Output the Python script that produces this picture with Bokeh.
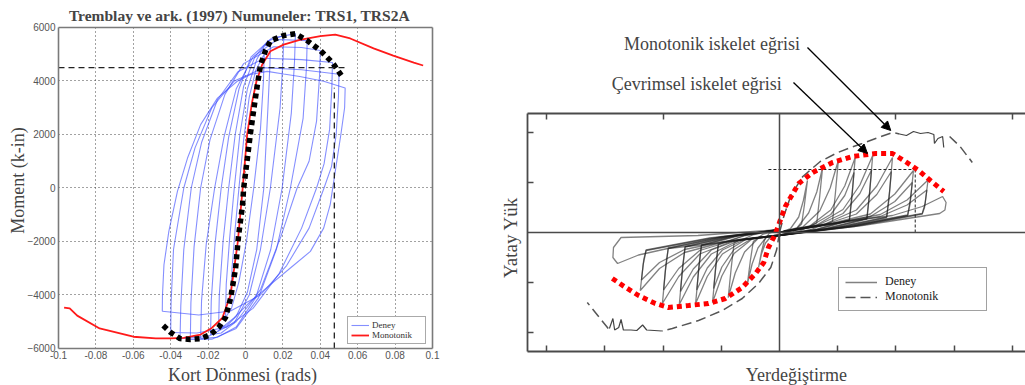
from math import pi
from bokeh.plotting import figure
from bokeh.models import (Range1d, FixedTicker, LinearAxis, Label, Arrow, NormalHead,
                          Legend, LegendItem, CustomJSTickFormatter)
from bokeh.layouts import row
from bokeh.embed import file_html
from bokeh.resources import INLINE

SERIF = "Liberation Serif"
SANS = "Liberation Sans"

# ================= LEFT PANEL DATA (rotation rad, moment k-in) =================
left_title = "Tremblay ve ark. (1997) Numuneler: TRS1, TRS2A"
left_xlabel = "Kort Dönmesi (rads)"
left_ylabel = "Moment (k-in)"
x_ticks = [-0.1, -0.08, -0.06, -0.04, -0.02, 0.0, 0.02, 0.04, 0.06, 0.08, 0.1]
x_tick_labels = ["-0.1", "-0.08", "-0.06", "-0.04", "-0.02", "0", "0.02", "0.04", "0.06", "0.08", "0.1"]
y_ticks = [-6000, -4000, -2000, 0, 2000, 4000, 6000]

# experimental cycles (Deney)
c1_x = [-0.0080, -0.0072, -0.0055, -0.0035, -0.0010, 0.0020, 0.0055, 0.0100, 0.0096, 0.0080, 0.0044, 0.0005, -0.0035, -0.0075, -0.0107]
c1_y = [-4300, -3000, -1500, 0, 1800, 3400, 4400, 5000, 4000, 2200, 0, -2000, -3500, -4500, -4840]
c2_x = [-0.0107, -0.0103, -0.0085, -0.0060, -0.0030, 0.0010, 0.0060, 0.0100, 0.0134, 0.0130, 0.0120, 0.0098, 0.0060, 0.0010, -0.0050, -0.0100, -0.0144]
c2_y = [-4840, -3600, -1900, 0, 2000, 3700, 4800, 5300, 5450, 4500, 3000, 0, -2300, -3900, -4800, -5150, -5220]
c3_x = [-0.0144, -0.0140, -0.0120, -0.0090, -0.0055, -0.0010, 0.0050, 0.0120, 0.0205, 0.0200, 0.0185, 0.0133, 0.0080, 0.0020, -0.0060, -0.0130, -0.0187]
c3_y = [-5220, -4000, -2000, 0, 2000, 3800, 4900, 5500, 5700, 4700, 3000, 0, -2300, -4000, -5050, -5420, -5480]
c4_x = [-0.0187, -0.0183, -0.0163, -0.0130, -0.0090, -0.0035, 0.0030, 0.0140, 0.0267, 0.0262, 0.0245, 0.0196, 0.0135, 0.0055, -0.0050, -0.0150, -0.0240]
c4_y = [-5480, -4200, -2100, 0, 1900, 3700, 4900, 5600, 5770, 4700, 2800, 0, -2300, -4100, -5200, -5580, -5630]
c5_x = [-0.0240, -0.0235, -0.0210, -0.0165, -0.0115, -0.0050, 0.0040, 0.0170, 0.0330, 0.0326, 0.0308, 0.0240, 0.0165, 0.0070, -0.0050, -0.0180, -0.0295]
c5_y = [-5630, -4200, -2100, 0, 1900, 3700, 4900, 5550, 5510, 4500, 2600, 0, -2300, -4100, -5250, -5650, -5660]
c6_x = [-0.0295, -0.0292, -0.0275, -0.0240, -0.0190, -0.0110, -0.0010, 0.0150, 0.0300, 0.0400, 0.0396, 0.0380, 0.0340, 0.0276, 0.0190, 0.0080, -0.0050, -0.0200, -0.0350]
c6_y = [-5660, -4300, -2200, 0, 1800, 3500, 4650, 5280, 5250, 5140, 4200, 2500, 1000, 0, -1800, -3800, -5000, -5550, -5630]
c7_x = [-0.0350, -0.0346, -0.0330, -0.0290, -0.0235, -0.0150, -0.0040, 0.0100, 0.0300, 0.0465, 0.0462, 0.0450, 0.0420, 0.0380, 0.0300, 0.0180, 0.0040, -0.0100, -0.0260, -0.0400]
c7_y = [-5630, -4400, -2300, 0, 1700, 3300, 4350, 4850, 4800, 4690, 3800, 2200, 900, 0, -1500, -3200, -4500, -5200, -5420, -5400]
c8_x = [-0.0400, -0.0398, -0.0385, -0.0330, -0.0270, -0.0180, -0.0060, 0.0100, 0.0300, 0.0500, 0.0497, 0.0485, 0.0460, 0.0420, 0.0340, 0.0220, 0.0080, -0.0080, -0.0250, -0.0445]
c8_y = [-5400, -4300, -2300, 0, 1500, 3000, 4000, 4500, 4420, 4250, 3400, 2000, 800, 0, -1500, -2900, -4000, -4600, -4750, -4610]
c9_x = [-0.0445, -0.0444, -0.0436, -0.0410, -0.0364, -0.0310, -0.0240, -0.0150, -0.0044, 0.0027, 0.0116, 0.0204, 0.0290, 0.0418, 0.0533,
        0.0530, 0.0510, 0.0480, 0.0453, 0.0418, 0.0347, 0.0240, 0.0133, 0.0027, -0.0062, -0.0150]
c9_y = [-4610, -4000, -2870, -1620, -125, 1120, 2370, 3360, 3990, 4240, 4360, 4260, 4170, 3990, 3740,
        3000, 2000, 620, -620, -1500, -2370, -2990, -3610, -4240, -4860, -5360]

# monotonic (Monotonik)
mono_x = [-0.097, -0.094, -0.090, -0.078, -0.060, -0.048, -0.040, -0.033, -0.024, -0.018, -0.0124, -0.008, -0.0041, -0.0015,
          0.0009, 0.0035, 0.0059, 0.0089, 0.0133, 0.0204, 0.029, 0.040, 0.048, 0.056, 0.0685, 0.079, 0.090, 0.095]
mono_y = [-4470, -4500, -4770, -5250, -5560, -5620, -5620, -5600, -5480, -5230, -4860, -4000, -2000, 0,
          2000, 3200, 4000, 4610, 5110, 5360, 5540, 5680, 5730, 5590, 5220, 4950, 4690, 4580]

# cyclic skeleton (black dots)
skel_x = [-0.044, -0.040, -0.035, -0.0295, -0.024, -0.0187, -0.0144, -0.0107, -0.008, -0.0053, -0.0037, -0.0016, -0.001,
          0.001, 0.0027, 0.0045, 0.0063, 0.008, 0.0107, 0.0134, 0.0205, 0.0267, 0.033, 0.040, 0.0465, 0.052]
skel_y = [-5140, -5400, -5630, -5660, -5630, -5480, -5220, -4840, -4130, -3000, -1780, -650, -20,
          1100, 2070, 2970, 3830, 4580, 5140, 5510, 5700, 5770, 5510, 5140, 4690, 4130]

# reference dashed lines
yield_moment = 4500
yield_end_rot = 0.0545
ref_rot = 0.0475
ref_rot_top = 3750

# ================= RIGHT PANEL DATA (displacement, lateral load; arbitrary units) =================
r_xlabel = "Yerdeğiştirme"
r_ylabel = "Yatay Yük"
r_note_mono = "Monotonik iskelet eğrisi"
r_note_cyc = "Çevrimsel iskelet eğrisi"
r_bottom_ticks = [-4, -3, -2, -1, 1, 2, 3, 4]
r_top_ticks = [-4, -2, 2, 4]
r_left_ticks = [-2, -1, 1, 2]

a1_x = [0.00, 0.19, 0.33, 0.41, 0.48, 0.43, 0.38, 0.24, 0.00, -0.14, -0.24, -0.31, -0.36, -0.31, -0.26, -0.18, 0.00]
a1_y = [0.00, 0.08, 0.31, 0.64, 1.04, 0.57, 0.17, 0.02, -0.06, -0.07, -0.21, -0.43, -0.70, -0.39, -0.16, -0.02, 0.06]
a2_x = [0.00, 0.30, 0.50, 0.64, 0.74, 0.69, 0.64, 0.37, 0.00, -0.22, -0.37, -0.47, -0.55, -0.50, -0.45, -0.28, 0.00]
a2_y = [0.00, 0.09, 0.39, 0.81, 1.30, 0.72, 0.19, 0.04, -0.06, -0.08, -0.31, -0.63, -1.02, -0.56, -0.18, -0.03, 0.06]
a3_x = [0.00, 0.40, 0.69, 0.87, 1.01, 0.96, 0.91, 0.51, 0.00, -0.35, -0.60, -0.76, -0.88, -0.83, -0.78, -0.44, 0.00]
a3_y = [0.00, 0.11, 0.43, 0.89, 1.44, 0.79, 0.22, 0.05, -0.06, -0.10, -0.39, -0.81, -1.30, -0.72, -0.21, -0.04, 0.06]
a4_x = [0.00, 0.52, 0.88, 1.12, 1.30, 1.25, 1.20, 0.65, 0.00, -0.46, -0.78, -0.99, -1.15, -1.10, -1.05, -0.58, 0.00]
a4_y = [0.00, 0.13, 0.45, 0.93, 1.50, 0.83, 0.25, 0.07, -0.06, -0.12, -0.42, -0.87, -1.40, -0.77, -0.24, -0.06, 0.06]
a5_x = [0.00, 0.64, 1.09, 1.38, 1.60, 1.55, 1.50, 0.80, 0.00, -0.58, -0.98, -1.24, -1.44, -1.39, -1.34, -0.72, 0.00]
a5_y = [0.00, 0.15, 0.46, 0.95, 1.54, 0.85, 0.28, 0.08, -0.06, -0.14, -0.43, -0.88, -1.42, -0.78, -0.26, -0.07, 0.06]
a6_x = [0.00, 0.78, 1.32, 1.67, 1.94, 1.89, 1.84, 0.97, 0.00, -0.69, -1.17, -1.48, -1.72, -1.67, -1.62, -0.86, 0.00]
a6_y = [0.00, 0.17, 0.45, 0.93, 1.50, 0.83, 0.31, 0.10, -0.06, -0.15, -0.43, -0.89, -1.44, -0.79, -0.29, -0.09, 0.06]
a7_x = [0.00, 0.92, 1.56, 1.98, 2.30, 2.25, 2.20, 1.15, 0.00, -0.80, -1.37, -1.73, -2.01, -1.96, -1.91, -1.00, 0.00]
a7_y = [0.00, 0.19, 0.37, 0.77, 1.24, 0.68, 0.35, 0.12, -0.06, -0.17, -0.43, -0.88, -1.42, -0.78, -0.32, -0.10, 0.06]
a8_x = [0.00, 1.02, 1.73, 2.19, 2.55, 2.50, 2.45, 1.28, 0.00, -0.96, -1.63, -2.06, -2.39, -2.34, -2.29, -1.20, 0.00]
a8_y = [0.00, 0.20, 0.36, 0.65, 1.05, 0.58, 0.38, 0.13, -0.06, -0.19, -0.40, -0.72, -1.16, -0.64, -0.36, -0.12, 0.06]
a9_x = [0.00, 1.14, 1.94, 2.45, 2.80, 2.86, 2.84, 2.75, 1.42, 0.00, -1.13, -1.92, -2.42, -2.78, -2.86, -2.85, -2.72, -1.40, 0.00]
a9_y = [0.00, 0.22, 0.34, 0.52, 0.72, 0.60, 0.45, 0.38, 0.14, -0.06, -0.22, -0.32, -0.45, -0.62, -0.50, -0.30, -0.10, -0.06, 0.06]
b4_x = [0.00, 0.52, 0.88, 1.12, 1.28, 1.24, 1.20, 0.65, 0.00, -0.46, -0.78, -0.99, -1.13, -1.09, -1.05, -0.58, 0.00]
b4_y = [0.00, 0.12, 0.36, 0.74, 1.20, 0.66, 0.24, 0.06, -0.05, -0.11, -0.34, -0.69, -1.12, -0.62, -0.23, -0.05, 0.05]
b5_x = [0.00, 0.64, 1.09, 1.38, 1.58, 1.54, 1.50, 0.80, 0.00, -0.58, -0.98, -1.24, -1.42, -1.38, -1.34, -0.72, 0.00]
b5_y = [0.00, 0.14, 0.38, 0.78, 1.25, 0.69, 0.27, 0.07, -0.05, -0.13, -0.35, -0.71, -1.15, -0.63, -0.25, -0.06, 0.05]
b6_x = [0.00, 0.78, 1.32, 1.67, 1.92, 1.88, 1.84, 0.97, 0.00, -0.69, -1.17, -1.48, -1.70, -1.66, -1.62, -0.86, 0.00]
b6_y = [0.00, 0.16, 0.37, 0.76, 1.22, 0.67, 0.30, 0.09, -0.05, -0.14, -0.35, -0.73, -1.18, -0.65, -0.28, -0.08, 0.05]
b7_x = [0.00, 0.92, 1.56, 1.98, 2.28, 2.24, 2.20, 1.15, 0.00, -0.80, -1.37, -1.73, -1.99, -1.95, -1.91, -1.00, 0.00]
b7_y = [0.00, 0.18, 0.32, 0.62, 1.00, 0.56, 0.34, 0.11, -0.05, -0.16, -0.36, -0.72, -1.15, -0.64, -0.31, -0.09, 0.05]
b8_x = [0.00, 1.02, 1.73, 2.19, 2.53, 2.49, 2.45, 1.28, 0.00, -0.96, -1.63, -2.06, -2.37, -2.33, -2.29, -1.20, 0.00]
b8_y = [0.00, 0.19, 0.32, 0.55, 0.85, 0.50, 0.37, 0.12, -0.05, -0.18, -0.34, -0.60, -0.95, -0.54, -0.35, -0.11, 0.05]

# cyclic skeleton (red dots)
rskel_x = [-2.87, -2.64, -2.42, -2.13, -1.91, -1.56, -1.22, -0.93, -0.64, -0.41, -0.27, -0.19, -0.10, -0.03,
           0.03, 0.10, 0.19, 0.33, 0.57, 0.91, 1.25, 1.65, 1.94, 2.16, 2.39, 2.59, 2.82]
rskel_y = [-0.92, -1.10, -1.26, -1.42, -1.50, -1.46, -1.42, -1.32, -1.10, -0.82, -0.60, -0.30, -0.10, 0.10,
           0.30, 0.52, 0.70, 0.98, 1.20, 1.40, 1.52, 1.58, 1.58, 1.42, 1.24, 1.04, 0.82]

# monotonic (dashed) with solid wiggles
rmono_pos_x = [0.00, 0.08, 0.20, 0.40, 0.70, 1.00, 1.22, 1.42, 1.65, 1.94, 2.06]
rmono_pos_y = [0.00, 0.35, 0.75, 1.12, 1.42, 1.60, 1.70, 1.78, 1.88, 2.00, 1.97]
rwig_pos_x = [2.06, 2.18, 2.30, 2.42, 2.55, 2.65, 2.66, 2.72, 2.80, 2.82]
rwig_pos_y = [1.97, 1.94, 2.02, 1.98, 2.00, 1.96, 1.78, 1.88, 1.92, 1.70]
rmono_pos2_x = [2.92, 3.10, 3.31]
rmono_pos2_y = [1.92, 1.72, 1.40]
rmono_neg_x = [0.00, -0.05, -0.15, -0.36, -0.64, -0.98, -1.39, -1.84, -2.02]
rmono_neg_y = [0.00, -0.35, -0.70, -1.02, -1.32, -1.56, -1.76, -1.92, -1.97]
rwig_neg_x = [-2.02, -2.15, -2.28, -2.35, -2.45, -2.55, -2.68, -2.72, -2.76, -2.83, -2.86, -2.92]
rwig_neg_y = [-1.97, -1.96, -1.95, -1.85, -1.96, -1.95, -1.95, -1.74, -1.90, -1.95, -1.72, -1.92]
rmono_neg2_x = [-2.94, -3.12, -3.30]
rmono_neg2_y = [-1.92, -1.66, -1.40]

# reference dotted lines
r_ref_load = 1.26
r_ref_x0 = -0.19
r_ref_disp = 2.33

# panel extents (data units of the plot boxes)
L_X0, L_X1, L_Y0, L_Y1 = -0.1, 0.1, -6000, 6000
R_X0, R_X1, R_Y0, R_Y1 = -4.326, 4.2232, -2.38, 2.38

BLANK = CustomJSTickFormatter(code="return ''")


def style_axis(ax, color, width, tick_in=0, tick_color=None):
    ax.axis_line_color = color
    ax.axis_line_width = width
    ax.major_tick_in = tick_in
    ax.major_tick_out = 0
    ax.major_tick_line_color = tick_color
    ax.minor_tick_line_color = None


# ================= LEFT FIGURE =================
left = figure(width=453, height=385, x_range=Range1d(-0.131016, 0.111230), y_range=Range1d(-7383.2, 7009.3),
              x_axis_type=None, y_axis_type=None, output_backend="svg", toolbar_location=None, min_border=0)
left.outline_line_color = None
left.xgrid.visible = False
left.ygrid.visible = False

# grid drawn by long dotted inward ticks
gx = LinearAxis(fixed_location=L_Y0, bounds=(L_X0, L_X1), ticker=FixedTicker(ticks=x_ticks[1:-1]), formatter=BLANK, level="underlay")
style_axis(gx, None, 1, tick_in=321, tick_color="#444444")
gx.major_tick_line_dash = "1 3"
gx.major_label_text_font_size = "1px"
left.add_layout(gx, "below")
gy = LinearAxis(fixed_location=L_X0, bounds=(L_Y0, L_Y1), ticker=FixedTicker(ticks=y_ticks[1:-1]), formatter=BLANK, level="underlay")
style_axis(gy, None, 1, tick_in=374, tick_color="#444444")
gy.major_tick_line_dash = "1 3"
gy.major_label_text_font_size = "1px"
left.add_layout(gy, "left")

# box axes
bx = LinearAxis(fixed_location=L_Y0, bounds=(L_X0, L_X1), ticker=FixedTicker(ticks=x_ticks),
                major_label_overrides={t: s for t, s in zip(x_ticks, x_tick_labels)})
style_axis(bx, "#7a7a7a", 1.6)
left.add_layout(bx, "below")
by = LinearAxis(fixed_location=L_X0, bounds=(L_Y0, L_Y1), ticker=FixedTicker(ticks=y_ticks))
style_axis(by, "#7a7a7a", 1.6)
left.add_layout(by, "left")
for ax in (bx, by):
    ax.major_label_text_font = SANS
    ax.major_label_text_font_size = "10px"
    ax.major_label_text_color = "#555555"
    ax.major_label_standoff = 3
tx = LinearAxis(fixed_location=L_Y1, bounds=(L_X0, L_X1), ticker=FixedTicker(ticks=[]), formatter=BLANK)
style_axis(tx, "#7a7a7a", 1.6)
left.add_layout(tx, "above")
rx = LinearAxis(fixed_location=L_X1, bounds=(L_Y0, L_Y1), ticker=FixedTicker(ticks=[]), formatter=BLANK)
style_axis(rx, "#7a7a7a", 1.6)
left.add_layout(rx, "right")

blue_r = left.multi_line([c1_x, c2_x, c3_x, c4_x, c5_x, c6_x, c7_x, c8_x, c9_x],
                         [c1_y, c2_y, c3_y, c4_y, c5_y, c6_y, c7_y, c8_y, c9_y],
                         line_color="#3344ff", line_alpha=0.6, line_width=1.1)
red_r = left.line(mono_x, mono_y, line_color="#ff1a1a", line_width=1.8)
left.line(skel_x, skel_y, line_color="black", line_width=5.5, line_dash="5 4")
left.line([L_X0, yield_end_rot], [yield_moment, yield_moment], line_color="#222222", line_width=1.3, line_dash="6 4")
left.line([ref_rot, ref_rot], [L_Y0, ref_rot_top], line_color="#222222", line_width=1.3, line_dash="6 4")

leg_l = Legend(items=[LegendItem(label="Deney", renderers=[blue_r]),
                      LegendItem(label="Monotonik", renderers=[red_r])],
               location=(347, 41), orientation="vertical",
               label_text_font=SERIF, label_text_font_size="9px", label_text_color="#333333",
               glyph_width=18, glyph_height=10, label_height=10, label_standoff=3,
               padding=3, spacing=0, margin=0, label_width=50,
               border_line_color="#555555", border_line_width=1.5, background_fill_alpha=1)
left.add_layout(leg_l)

left.add_layout(Label(x=-0.0032, y=6430, text=left_title, text_font=SERIF, text_font_style="bold",
                      text_font_size="15.5px", text_align="center", text_baseline="middle"))
left.add_layout(Label(x=-0.0016, y=-6990, text=left_xlabel, text_font=SERIF, text_font_size="18px",
                      text_align="center", text_baseline="alphabetic"))
left.add_layout(Label(x=-0.1214, y=280, text=left_ylabel, text_font=SERIF, text_font_size="18px",
                      text_align="center", text_baseline="middle", angle=pi / 2))

# ================= RIGHT FIGURE =================
right = figure(width=572, height=385, x_range=Range1d(-5.5966, 4.2232), y_range=Range1d(-3.06, 4.64),
               x_axis_type=None, y_axis_type=None, output_backend="svg", toolbar_location=None, min_border=0)
right.outline_line_color = None
right.xgrid.visible = False
right.ygrid.visible = False

r_axes = [
    (LinearAxis(fixed_location=R_Y0, bounds=(R_X0, R_X1), ticker=FixedTicker(ticks=r_bottom_ticks)), "below", 6),
    (LinearAxis(fixed_location=R_Y1, bounds=(R_X0, R_X1), ticker=FixedTicker(ticks=r_top_ticks)), "above", 6),
    (LinearAxis(fixed_location=R_X0, bounds=(R_Y0, R_Y1), ticker=FixedTicker(ticks=r_left_ticks)), "left", 6),
    (LinearAxis(fixed_location=0, bounds=(R_Y0, R_Y1), ticker=FixedTicker(ticks=[])), "left", 0),
    (LinearAxis(fixed_location=0, bounds=(R_X0, R_X1), ticker=FixedTicker(ticks=[])), "below", 0),
]
for ax, side, tin in r_axes:
    style_axis(ax, "#4a4a4a", 1.8 if tin else 1.5, tick_in=tin, tick_color="#4a4a4a")
    ax.major_tick_line_width = 1.5
    ax.formatter = BLANK
    ax.major_label_text_font_size = "1px"
    right.add_layout(ax, side)

exp_r = right.multi_line([a1_x, a2_x, a3_x, a4_x, a5_x, a6_x, a7_x, a8_x, a9_x, b4_x, b5_x, b6_x, b7_x, b8_x],
                         [a1_y, a2_y, a3_y, a4_y, a5_y, a6_y, a7_y, a8_y, a9_y, b4_y, b5_y, b6_y, b7_y, b8_y],
                         line_color="#1a1a1a", line_alpha=0.55, line_width=1.3)
mono_r = right.line(rmono_pos_x, rmono_pos_y, line_color="#555555", line_width=1.5, line_dash="10 5")
right.line(rmono_pos2_x, rmono_pos2_y, line_color="#555555", line_width=1.5, line_dash="10 5")
right.line(rmono_neg_x, rmono_neg_y, line_color="#555555", line_width=1.5, line_dash="10 5")
right.line(rmono_neg2_x, rmono_neg2_y, line_color="#555555", line_width=1.5, line_dash="10 5")
right.line(rwig_pos_x, rwig_pos_y, line_color="#444444", line_width=1.2)
right.line(rwig_neg_x, rwig_neg_y, line_color="#444444", line_width=1.2)
right.line([r_ref_x0, r_ref_disp], [r_ref_load, r_ref_load], line_color="#222222", line_width=1, line_dash="3 2")
right.line([r_ref_disp, r_ref_disp], [0, r_ref_load], line_color="#222222", line_width=1, line_dash="3 2")
right.line(rskel_x, rskel_y, line_color="#ff0000", line_width=5, line_dash="5 4")

leg_r = Legend(items=[LegendItem(label="Deney", renderers=[exp_r]),
                      LegendItem(label="Monotonik", renderers=[mono_r])],
               location=(385, 74), orientation="vertical",
               label_text_font=SERIF, label_text_font_size="12px", label_text_color="#222222",
               glyph_width=32, glyph_height=14, label_height=14, label_standoff=8,
               padding=6, spacing=0, margin=0, label_width=95,
               border_line_color="#444444", border_line_width=1.6, background_fill_alpha=1)
right.add_layout(leg_r)

right.add_layout(Label(x=-1.16, y=3.78, text=r_note_mono, text_font=SERIF, text_font_size="18px",
                       text_align="center", text_baseline="middle"))
right.add_layout(Label(x=-1.42, y=2.98, text=r_note_cyc, text_font=SERIF, text_font_size="18px",
                       text_align="center", text_baseline="middle"))
right.add_layout(Label(x=0.29, y=-2.84, text=r_xlabel, text_font=SERIF, text_font_size="18px",
                       text_align="center", text_baseline="alphabetic"))
right.add_layout(Label(x=-4.62, y=-0.10, text=r_ylabel, text_font=SERIF, text_font_size="19px",
                       text_align="center", text_baseline="middle", angle=pi / 2))
right.add_layout(Arrow(end=NormalHead(size=9, fill_color="black", line_color="black"),
                       x_start=0.48, y_start=3.70, x_end=1.91, y_end=2.04, line_width=1.3))
right.add_layout(Arrow(end=NormalHead(size=9, fill_color="black", line_color="black"),
                       x_start=0.24, y_start=3.00, x_end=1.51, y_end=1.58, line_width=1.3))

layout = row(left, right)
open("out.html", "w").write(file_html(layout, INLINE))
